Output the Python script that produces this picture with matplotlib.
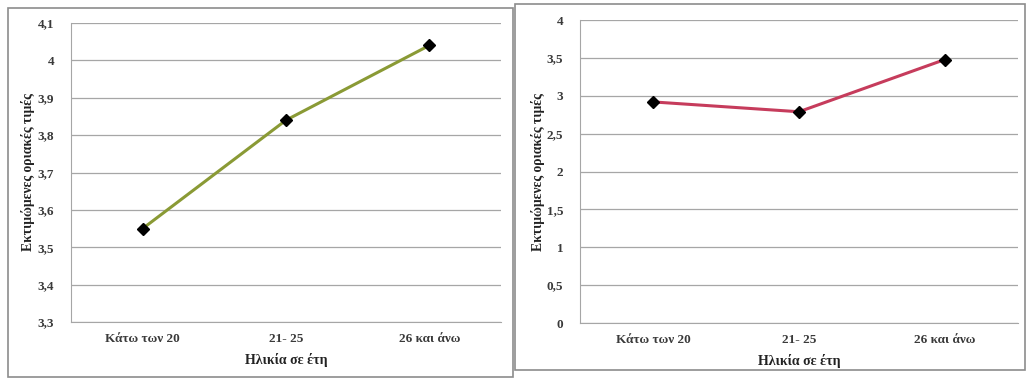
import matplotlib.pyplot as plt
from matplotlib.patches import Rectangle
from matplotlib.ticker import FuncFormatter

# Δεδομένα
categories = ['Κάτω των 20', '21- 25', '26 και άνω']
values_left = [3.55, 3.84, 4.04]
values_right = [2.92, 2.79, 3.48]
ticks_left = [3.3, 3.4, 3.5, 3.6, 3.7, 3.8, 3.9, 4.0, 4.1]
ticks_right = [0, 0.5, 1, 1.5, 2, 2.5, 3, 3.5, 4]

ylabel = 'Εκτιμώμενες οριακές τιμές'
xlabel = 'Ηλικία σε έτη'

plt.rcParams['font.family'] = ['Liberation Serif', 'DejaVu Serif']
plt.rcParams['font.weight'] = 'bold'

fig = plt.figure(figsize=(10.26, 3.8), dpi=100)

# πλαίσια γύρω από τα δύο γραφήματα
fig.patches.append(Rectangle((0.0078, 0.008), 0.492, 0.971, transform=fig.transFigure,
                             fill=False, edgecolor='#8c8c8c', linewidth=1.2))
fig.patches.append(Rectangle((0.502, 0.026), 0.497, 0.963, transform=fig.transFigure,
                             fill=False, edgecolor='#8c8c8c', linewidth=1.2))


def comma_fmt(v, pos):
    s = f'{v:g}'
    return s.replace('.', ',')


def draw(ax, values, ticks, color, ylim, label_xy):
    x = range(len(categories))
    ax.plot(x, values, color=color, linewidth=2.2, marker='D', markersize=6,
            markerfacecolor='black', markeredgecolor='black', zorder=3)
    ax.set_xlim(-0.5, len(categories) - 0.5)
    ax.set_ylim(*ylim)
    ax.set_yticks(ticks)
    ax.yaxis.set_major_formatter(FuncFormatter(comma_fmt))
    ax.set_xticks(list(x))
    ax.set_xticklabels(categories)
    ax.grid(axis='y', color='#a6a6a6', linewidth=0.9)
    ax.set_axisbelow(True)
    for s in ['top', 'right']:
        ax.spines[s].set_visible(False)
    for s in ['left', 'bottom']:
        ax.spines[s].set_color('#a6a6a6')
    ax.tick_params(axis='both', length=0, labelsize=9.5, colors='#3a3a3a')
    ax.tick_params(axis='y', pad=12)
    ax.tick_params(axis='x', pad=8)
    for lab in ax.get_xticklabels() + ax.get_yticklabels():
        lab.set_fontweight('bold')
    ax.set_xlabel(xlabel, fontsize=10, fontweight='bold', color='#222222', labelpad=6)
    ax.set_ylabel(ylabel, fontsize=9.8, fontweight='bold', color='#222222')
    ax.yaxis.set_label_coords(*label_xy)


ax1 = fig.add_axes([0.0692, 0.1526, 0.4191, 0.7869])
draw(ax1, values_left, ticks_left, '#8a9a35', (3.3, 4.1), (-0.084, 0.5))

ax2 = fig.add_axes([0.5653, 0.15, 0.4268, 0.797])
draw(ax2, values_right, ticks_right, '#c63c5c', (0, 4), (-0.08, 0.5))

fig.savefig('out.png', dpi=100)
